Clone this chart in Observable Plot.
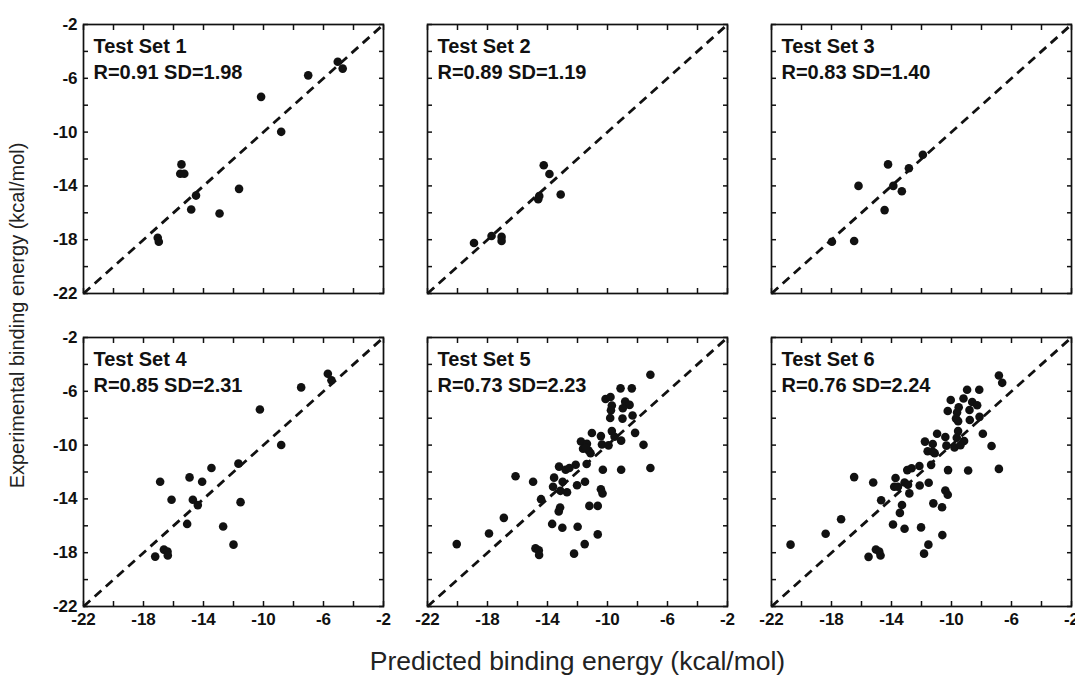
<!DOCTYPE html>
<html>
<head>
<meta charset="utf-8">
<script src="https://cdn.jsdelivr.net/npm/d3@7"></script>
<script src="https://cdn.jsdelivr.net/npm/@observablehq/plot@0.6"></script>
<style>
  html, body { margin: 0; padding: 0; background: #fff; }
  #chart { width: 1075px; height: 675px; overflow: hidden; }
</style>
</head>
<body>
<div id="chart"></div>
<script>
// ---- data ----
const axisRange = [-22, -2];
const majorTicks = [-22, -18, -14, -10, -6, -2];
const minorTicks = [-22, -20, -18, -16, -14, -12, -10, -8, -6, -4, -2];

const setNames = ["Test Set 1", "Test Set 2", "Test Set 3", "Test Set 4", "Test Set 5", "Test Set 6"];
const rValues  = [0.91, 0.89, 0.83, 0.85, 0.73, 0.76];
const sdValues = [1.98, 1.19, 1.40, 2.31, 2.23, 2.24];

// [predicted, experimental]
const set1 = [[-15.47,-12.4],[-15.55,-13.1],[-15.28,-13.1],[-14.5,-14.72],[-14.82,-15.75],[-12.93,-16.05],
  [-11.63,-14.22],[-10.16,-7.38],[-8.82,-9.98],[-7.02,-5.78],[-5.05,-4.77],[-4.72,-5.28],[-17.05,-17.85],[-16.98,-18.15]];
const set2 = [[-14.25,-12.46],[-13.87,-13.12],[-13.12,-14.64],[-14.62,-14.99],[-14.55,-14.75],[-17.73,-17.72],
  [-17.06,-17.79],[-17.06,-18.09],[-18.9,-18.24]];
const set3 = [[-14.23,-12.4],[-11.91,-11.68],[-12.84,-12.69],[-16.2,-14.0],[-13.88,-14.0],[-13.31,-14.4],
  [-14.46,-15.8],[-17.97,-18.15],[-16.49,-18.1]];
const set4 = [[-5.71,-4.69],[-5.47,-5.18],[-7.49,-5.71],[-10.24,-7.35],[-8.82,-9.99],[-11.67,-11.38],[-13.47,-11.7],
  [-14.93,-12.4],[-14.09,-12.72],[-16.89,-12.72],[-16.13,-14.06],[-14.71,-14.06],[-14.38,-14.46],[-11.53,-14.24],
  [-15.09,-15.86],[-12.69,-16.05],[-12.0,-17.4],[-16.64,-17.77],[-16.4,-17.92],[-16.38,-18.2],[-17.22,-18.29]];
const set5 = [[-7.14,-4.77],[-9.13,-5.78],[-8.38,-5.78],[-10.13,-6.57],[-9.8,-6.42],[-8.82,-6.77],[-8.53,-7.01],
  [-9.71,-7.06],[-8.98,-7.26],[-9.77,-7.41],[-8.33,-7.8],[-9.82,-7.98],[-9.0,-8.03],[-8.16,-9.09],[-9.71,-8.96],
  [-11.04,-9.1],[-10.44,-9.33],[-9.53,-9.38],[-9.09,-9.67],[-11.77,-9.73],[-11.37,-9.9],[-10.37,-9.95],[-9.93,-10.02],
  [-7.6,-9.98],[-11.63,-10.27],[-11.26,-10.4],[-11.13,-10.6],[-11.45,-10.2],[-12.12,-11.46],[-11.39,-11.4],
  [-13.23,-11.6],[-12.79,-11.83],[-12.54,-11.7],[-10.31,-11.83],[-9.09,-11.83],[-7.14,-11.7],[-16.13,-12.32],
  [-14.96,-12.72],[-13.56,-12.42],[-12.99,-12.72],[-11.5,-12.72],[-13.63,-13.1],[-12.03,-12.99],[-13.14,-13.4],
  [-12.7,-13.5],[-10.44,-13.28],[-10.33,-13.6],[-14.43,-14.02],[-13.16,-14.64],[-13.25,-14.93],[-11.21,-14.52],
  [-10.65,-14.52],[-16.91,-15.41],[-13.69,-15.86],[-13.01,-16.15],[-11.99,-16.07],[-10.65,-16.64],[-17.9,-16.57],
  [-20.05,-17.36],[-14.8,-17.68],[-14.58,-17.83],[-14.56,-18.17],[-11.52,-17.36],[-12.23,-18.07]];
const set6 = [[-6.84,-4.83],[-6.62,-5.37],[-8.96,-5.89],[-8.15,-5.89],[-10.05,-6.65],[-9.2,-6.53],[-8.62,-6.8],
  [-8.29,-7.04],[-9.52,-7.19],[-10.25,-7.46],[-8.8,-7.39],[-9.63,-7.58],[-8.13,-7.9],[-9.7,-8.03],[-8.78,-8.13],
  [-9.56,-8.22],[-7.91,-9.16],[-9.56,-8.96],[-10.96,-9.16],[-10.41,-9.4],[-9.65,-9.45],[-9.16,-9.7],[-7.33,-10.07],
  [-11.77,-9.74],[-11.25,-9.92],[-10.34,-10.04],[-9.8,-10.17],[-9.4,-10.0],[-11.59,-10.46],[-11.25,-10.5],
  [-11.12,-10.6],[-12.14,-11.55],[-11.36,-11.47],[-12.95,-11.86],[-12.66,-11.72],[-10.23,-11.86],[-8.89,-11.89],
  [-6.84,-11.77],[-16.49,-12.38],[-15.22,-12.78],[-13.73,-12.45],[-13.13,-12.78],[-11.52,-12.8],[-13.82,-13.1],
  [-13.57,-13.1],[-12.9,-12.95],[-12.12,-13.0],[-12.81,-13.59],[-10.41,-13.37],[-10.25,-13.69],[-14.69,-14.1],
  [-13.3,-14.45],[-13.44,-15.04],[-11.21,-14.33],[-10.63,-14.62],[-17.36,-15.51],[-13.9,-15.9],[-13.13,-16.22],
  [-12.03,-16.12],[-10.61,-16.69],[-18.39,-16.59],[-20.73,-17.4],[-15.04,-17.76],[-14.82,-17.91],[-14.73,-18.21],
  [-15.53,-18.31],[-11.54,-17.4],[-11.83,-18.07]];

const panelSets = [set1, set2, set3, set4, set5, set6];

// ---- tables built from the arrays ----
const points = panelSets.flatMap((pts, i) =>
  pts.map(([x, y]) => ({x, y, col: i % 3, row: Math.floor(i / 3)})));
const panelLabels = setNames.map((name, i) => ({
  col: i % 3, row: Math.floor(i / 3),
  text: `${name}\nR=${rValues[i].toFixed(2)} SD=${sdValues[i].toFixed(2)}`
}));
const diagonal = [{x1: axisRange[0], y1: axisRange[0], x2: axisRange[1], y2: axisRange[1]}];

const ink = "#111";
const fmt = d => `${d}`;

const chart = Plot.plot({
  width: 1075,
  height: 675,
  marginLeft: 82,
  marginRight: 4,
  marginTop: 23,
  marginBottom: 68,
  style: {fontFamily: "'Liberation Sans', Arial, Helvetica, sans-serif", color: ink, background: "#fff"},
  x: {domain: axisRange},
  y: {domain: axisRange},
  fx: {domain: [0, 1, 2], axis: null, paddingInner: 0.129, paddingOuter: 0},
  fy: {domain: [0, 1], axis: null, paddingInner: 0.14, paddingOuter: 0},
  marks: [
    // inward ticks on all four sides of every panel
    Plot.axisX({anchor: "bottom", ticks: minorTicks, tickSize: -5, fill: "none", stroke: ink, strokeWidth: 1.5, facetAnchor: null}),
    Plot.axisX({anchor: "top", ticks: minorTicks, tickSize: -5, fill: "none", stroke: ink, strokeWidth: 1.5, facetAnchor: null}),
    Plot.axisY({anchor: "left", ticks: minorTicks, tickSize: -5, fill: "none", stroke: ink, strokeWidth: 1.5, facetAnchor: null}),
    Plot.axisY({anchor: "right", ticks: minorTicks, tickSize: -5, fill: "none", stroke: ink, strokeWidth: 1.5, facetAnchor: null}),
    // tick labels on the outer panels
    Plot.axisX({anchor: "bottom", ticks: majorTicks, tickFormat: fmt, tickSize: 0, tickPadding: 6,
      fontSize: 17, fontWeight: "bold", fill: ink, label: null}),
    Plot.axisY({anchor: "left", ticks: majorTicks, tickFormat: fmt, tickSize: 0, tickPadding: 6,
      fontSize: 17, fontWeight: "bold", fill: ink, label: null}),
    // axis titles
    Plot.axisX({anchor: "bottom", ticks: [], label: "Predicted binding energy (kcal/mol)", labelAnchor: "center",
      labelArrow: "none", labelOffset: 63, fontSize: 26.5, fill: "#222"}),
    Plot.axisY({anchor: "left", ticks: [], label: "Experimental binding energy (kcal/mol)", labelAnchor: "center",
      labelArrow: "none", labelOffset: 74, fontSize: 20, fill: "#222"}),
    Plot.frame({stroke: ink, strokeWidth: 1.7}),
    Plot.link(diagonal, {x1: "x1", y1: "y1", x2: "x2", y2: "y2", stroke: ink, strokeWidth: 2.8, strokeDasharray: "9,6"}),
    Plot.dot(points, {x: "x", y: "y", fx: "col", fy: "row", r: 4.3, fill: ink, stroke: "none"}),
    Plot.text(panelLabels, {fx: "col", fy: "row", text: "text", frameAnchor: "top-left", dx: 10, dy: 10,
      lineAnchor: "top", textAnchor: "start", fontSize: 20, fontWeight: "bold", lineHeight: 1.3, fill: ink})
  ]
});
document.getElementById("chart").appendChild(chart);
</script>
</body>
</html>
